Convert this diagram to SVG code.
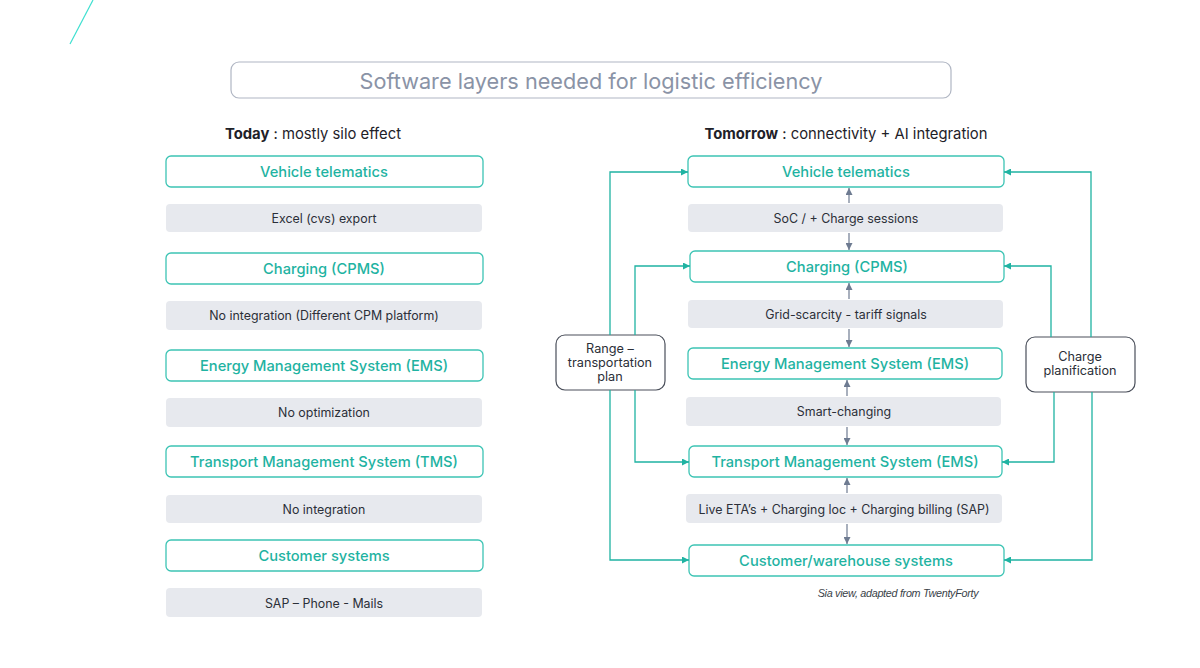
<svg xmlns="http://www.w3.org/2000/svg" width="1200" height="668" viewBox="0 0 1200 668">
<defs>
<style>
.box{fill:#fff;stroke:#3cc4b4;stroke-width:1.3}
.grey{fill:#e7e9ee;stroke:none}
.bt{font-family:Inter,"Open Sans",sans-serif;font-size:14.7px;fill:#1fb3a2;text-anchor:middle;font-weight:500}
.gt{font-family:Inter,"Open Sans",sans-serif;font-size:12.4px;fill:#2b2f38;text-anchor:middle}
.hd{font-family:Inter,"Open Sans",sans-serif;font-size:14.8px;fill:#1e2128;text-anchor:middle}
.side{fill:#fff;stroke:#4a4f5a;stroke-width:1.2}
.st{font-family:Inter,"Open Sans",sans-serif;font-size:12.7px;fill:#2b2f38;text-anchor:middle}
.teal{fill:none;stroke:#1fb3a2;stroke-width:1.3}
.gar{fill:none;stroke:#6e7b91;stroke-width:1.2}
</style>
<marker id="ta" viewBox="0 0 10 10" refX="10" refY="5" markerWidth="7" markerHeight="7" markerUnits="userSpaceOnUse" orient="auto"><path d="M0,0 L10,5 L0,10 z" fill="#1fb3a2"/></marker>
<marker id="ga" viewBox="0 0 10 10" refX="10" refY="5" markerWidth="7" markerHeight="7" markerUnits="userSpaceOnUse" orient="auto"><path d="M0,0 L10,5 L0,10 z" fill="#6e7b91"/></marker>
</defs>
<rect width="1200" height="668" fill="#fff"/>
<line x1="93" y1="0" x2="70" y2="44" stroke="#3ee0d0" stroke-width="1.2"/>

<g id="title">
<rect x="231" y="62" width="720" height="36" rx="8" fill="#fff" stroke="#b0b6c3" stroke-width="1.2"/>
<text x="591" y="88.5" font-family="Inter,'Open Sans',sans-serif" font-size="21.7" fill="#8a93a6" text-anchor="middle">Software layers needed for logistic efficiency</text>
</g>

<g id="today-heading"><text x="313" y="139" class="hd"><tspan font-weight="bold">Today</tspan> : mostly silo effect</text></g>
<g id="tomorrow-heading"><text x="846" y="139" class="hd"><tspan font-weight="bold">Tomorrow</tspan> : connectivity + AI integration</text></g>

<g id="l-telematics"><rect class="box" x="166" y="156" width="317" height="31" rx="5"/><text class="bt" x="324" y="176.5">Vehicle telematics</text></g>
<g id="l-excel"><rect class="grey" x="166" y="204" width="316" height="28" rx="4"/><text class="gt" x="324" y="222.5">Excel (cvs) export</text></g>
<g id="l-charging"><rect class="box" x="166" y="253" width="317" height="31" rx="5"/><text class="bt" x="324" y="273.5">Charging (CPMS)</text></g>
<g id="l-noint1"><rect class="grey" x="166" y="301" width="316" height="29" rx="4"/><text class="gt" x="324" y="319.5">No integration (Different CPM platform)</text></g>
<g id="l-ems"><rect class="box" x="166" y="350" width="317" height="31" rx="5"/><text class="bt" x="324" y="370.5">Energy Management System (EMS)</text></g>
<g id="l-noopt"><rect class="grey" x="166" y="398" width="316" height="29" rx="4"/><text class="gt" x="324" y="416.5">No optimization</text></g>
<g id="l-tms"><rect class="box" x="166" y="446" width="317" height="31" rx="5"/><text class="bt" x="324" y="466.5">Transport Management System (TMS)</text></g>
<g id="l-noint2"><rect class="grey" x="166" y="495" width="316" height="28" rx="4"/><text class="gt" x="324" y="513.5">No integration</text></g>
<g id="l-customer"><rect class="box" x="166" y="540" width="317" height="31" rx="5"/><text class="bt" x="324" y="560.5">Customer systems</text></g>
<g id="l-sap"><rect class="grey" x="166" y="588" width="316" height="29" rx="4"/><text class="gt" x="324" y="607.5">SAP – Phone - Mails</text></g>

<g id="r-telematics"><rect class="box" x="688" y="156" width="316" height="31" rx="5"/><text class="bt" x="846" y="176.5">Vehicle telematics</text></g>
<g id="r-soc"><rect class="grey" x="688" y="204" width="315" height="28" rx="4"/><text class="gt" x="846" y="222.5">SoC /  + Charge sessions</text></g>
<g id="r-charging"><rect class="box" x="690" y="251" width="314" height="31" rx="5"/><text class="bt" x="847" y="271.5">Charging (CPMS)</text></g>
<g id="r-grid"><rect class="grey" x="688" y="300" width="315" height="28" rx="4"/><text class="gt" x="846" y="318.5">Grid-scarcity - tariff signals</text></g>
<g id="r-ems"><rect class="box" x="688" y="348" width="314" height="31" rx="5"/><text class="bt" x="845" y="368.5">Energy Management System (EMS)</text></g>
<g id="r-smart"><rect class="grey" x="686" y="397" width="315" height="29" rx="4"/><text class="gt" x="844" y="415.5">Smart-changing</text></g>
<g id="r-tms"><rect class="box" x="689" y="446" width="313" height="31" rx="5"/><text class="bt" x="845" y="466.5">Transport Management System (EMS)</text></g>
<g id="r-live"><rect class="grey" x="686" y="494" width="316" height="29" rx="4"/><text class="gt" x="844" y="513.5">Live ETA’s + Charging loc + Charging billing (SAP)</text></g>
<g id="r-customer"><rect class="box" x="689" y="545" width="315" height="31" rx="5"/><text class="bt" x="846" y="565.5">Customer/warehouse systems</text></g>

<g id="range"><rect class="side" x="556" y="335" width="109" height="55" rx="9"/><text class="st" x="610" y="353">Range –</text><text class="st" x="610" y="367">transportation</text><text class="st" x="610" y="381">plan</text></g>
<g id="charge-plan"><rect class="side" x="1026" y="337" width="109" height="55" rx="9"/><text class="st" x="1080" y="361">Charge</text><text class="st" x="1080" y="375">planification</text></g>

<g id="caption"><text x="898" y="597" font-family="'Liberation Sans',Arial,sans-serif" font-size="10.8" font-style="italic" fill="#3a3f48" text-anchor="middle" letter-spacing="-0.3">Sia view, adapted from TwentyForty</text></g>

<g id="connectors">
<path class="gar" d="M849,203 V188" marker-end="url(#ga)"/>
<path class="gar" d="M849,233 V250" marker-end="url(#ga)"/>
<path class="gar" d="M849,299 V283" marker-end="url(#ga)"/>
<path class="gar" d="M849,329 V347" marker-end="url(#ga)"/>
<path class="gar" d="M847,396 V380" marker-end="url(#ga)"/>
<path class="gar" d="M847,427 V445" marker-end="url(#ga)"/>
<path class="gar" d="M847,493 V478" marker-end="url(#ga)"/>
<path class="gar" d="M847,524 V544" marker-end="url(#ga)"/>

<path class="teal" d="M610,335 V172 H688" marker-end="url(#ta)"/>
<path class="teal" d="M635,335 V266 H690" marker-end="url(#ta)"/>
<path class="teal" d="M635,390 V462 H689" marker-end="url(#ta)"/>
<path class="teal" d="M610,390 V560 H689" marker-end="url(#ta)"/>

<path class="teal" d="M1091,337 V172 H1004" marker-end="url(#ta)"/>
<path class="teal" d="M1051,337 V266 H1004" marker-end="url(#ta)"/>
<path class="teal" d="M1054,392 V462 H1002" marker-end="url(#ta)"/>
<path class="teal" d="M1092,392 V560 H1004" marker-end="url(#ta)"/>
</g>
</svg>
